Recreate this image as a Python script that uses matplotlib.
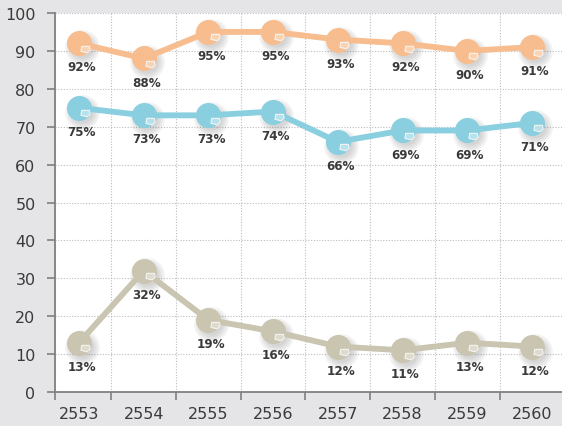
import numpy as np
import matplotlib
matplotlib.use("Agg")
import matplotlib.pyplot as plt
from matplotlib.path import Path
from matplotlib.ticker import FixedLocator
from matplotlib.transforms import offset_copy
from matplotlib import font_manager

# ==============================
# Data
years = ["2553", "2554", "2555", "2556", "2557", "2558", "2559", "2560"]
orange_vals = [92, 88, 95, 95, 93, 92, 90, 91]
blue_vals = [75, 73, 73, 74, 66, 69, 69, 71]
grey_vals = [13, 32, 19, 16, 12, 11, 13, 12]

colors = ["#f8bd8e", "#89cfe0", "#c9c5b1"]
visor_colors = ["#fad3b3", "#b5e2ec", "#dedbcd"]

# font for percentage labels (condensed bold)
names = {f.name for f in font_manager.fontManager.ttflist}
if "Liberation Sans Narrow" in names:
    pct_font = dict(family="Liberation Sans Narrow", weight="bold")
else:
    pct_font = dict(family="DejaVu Sans", weight="bold", stretch="condensed")

# visor marker (small lens at lower right of the helmet)
visor_verts = [(-0.1, 0.15), (0.9, 0.15), (1.0, -0.35), (0.6, -0.7),
               (-0.2, -0.5), (-0.1, 0.15)]
visor = Path(visor_verts, [Path.MOVETO] + [Path.LINETO] * 4 + [Path.CLOSEPOLY])

fig = plt.figure(figsize=(5.62, 4.27), dpi=100, facecolor="#e5e5e7")
ax = fig.add_axes([55 / 562, 1 - 393 / 427, 507 / 562, 379 / 427])
ax.set_facecolor("white")

x = np.arange(len(years))
shadow_tr = offset_copy(ax.transData, fig=fig, x=3, y=-4, units="dots")

for vals, c, vc in zip([orange_vals, blue_vals, grey_vals], colors, visor_colors):
    # soft shadow: stacked faint discs
    for ms in [25, 22, 19, 16]:
        ax.plot(x, vals, ls="none", marker="o", ms=ms, mfc="#606060", mec="none",
                alpha=0.07, transform=shadow_tr, zorder=2)
    ax.plot(x, vals, color=c, lw=4.2, zorder=3, solid_capstyle="round")
    ax.plot(x, vals, ls="none", marker="o", ms=17, mfc=c, mec=c, zorder=4)
    ax.plot(np.array(x) + 0.05, np.array(vals) - 0.9, ls="none", marker=visor, ms=11,
            mfc=vc, mec="#f4f4f4", mew=0.8, zorder=5)
    for xi, v in zip(x, vals):
        ax.annotate(f"{v}%", (xi, v), xytext=(2, -17), textcoords="offset points",
                    ha="center", va="center", fontsize=9.5, color="#3a3a3a",
                    zorder=6, **pct_font)

ax.set_xlim(-0.371, 7.465)
ax.set_ylim(0, 100)

ax.set_xticks(x)
ax.set_xticklabels(years)
ax.xaxis.set_minor_locator(FixedLocator([-0.371] + list(np.arange(0.5, 7.0, 1.0))))
ax.tick_params(axis="x", which="major", length=0, pad=10, labelsize=11.5,
               labelcolor="#3a3a3a")
ax.tick_params(axis="x", which="minor", length=6, width=1.2, color="#808080")
ax.set_yticks(np.arange(0, 101, 10))
ax.tick_params(axis="y", length=6, width=1.2, color="#808080", pad=8,
               labelsize=11.5, labelcolor="#3a3a3a")

ax.grid(axis="y", which="major", ls=(0, (1, 1.5)), color="#bcbcbc", lw=0.8)
ax.grid(axis="x", which="minor", ls=(0, (1, 1.5)), color="#bcbcbc", lw=0.8)
ax.set_axisbelow(True)

for s in ["top", "right"]:
    ax.spines[s].set_visible(False)
for s in ["left", "bottom"]:
    ax.spines[s].set_color("#808080")
    ax.spines[s].set_linewidth(1.3)

fig.savefig("out.png", dpi=100, facecolor=fig.get_facecolor())
